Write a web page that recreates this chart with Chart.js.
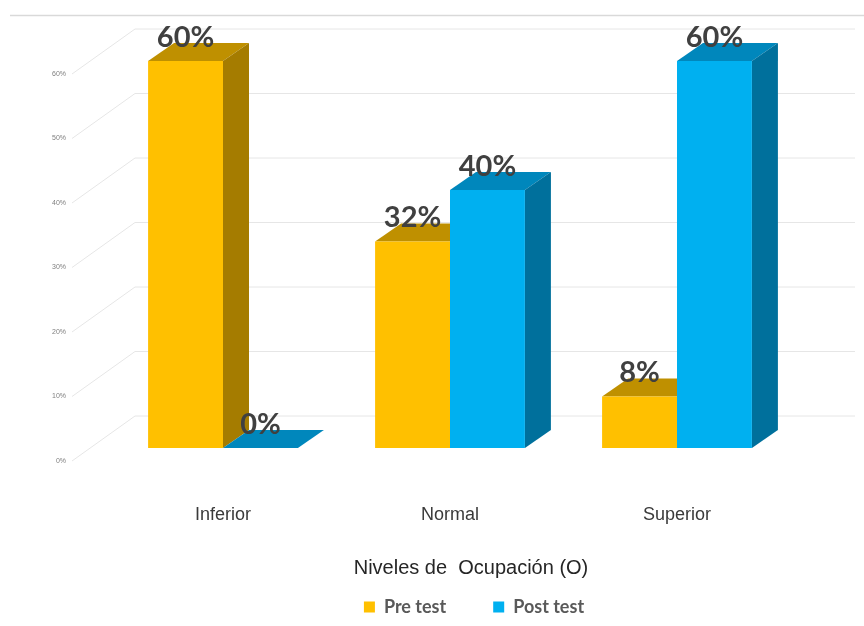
<!DOCTYPE html>
<html>
<head>
<meta charset="utf-8">
<script src="https://cdn.jsdelivr.net/npm/chart.js@4.4.0/dist/chart.umd.min.js"></script>
<style>
  html, body { margin: 0; padding: 0; background: #fff; }
  #wrap { width: 864px; height: 626px; }
</style>
</head>
<body>
<div id="wrap"><canvas id="chart" width="864" height="626"></canvas></div>
<script>
const categories = ["Inferior", "Normal", "Superior"];
const preTest = [60, 32, 8];
const postTest = [0, 40, 60];
const yTicks = [0, 10, 20, 30, 40, 50, 60];
const axisTitle = "Niveles de  Ocupación (O)";

const preColors = { front: "#FFC000", top: "#BF9000", side: "#A57C00" };
const postColors = { front: "#00B0F0", top: "#0087BC", side: "#00709C" };
const depth = { x: 26, y: -18 };

// back wall, gridlines, tick labels and the depth faces of the 3D bars
const wallPlugin = {
  id: "wall",
  afterLayout(chart) {
    // legend sits a bit right of the plot centre in the original
    chart.legend.left += 24;
    chart.legend.right += 24;
  },
  beforeDatasetsDraw(chart) {
    const { ctx, chartArea } = chart;
    const y = chart.scales.y;
    ctx.save();
    ctx.strokeStyle = "#d9d9d9";
    ctx.lineWidth = 1.5;
    ctx.beginPath();
    ctx.moveTo(10, 15.5);
    ctx.lineTo(864, 15.5);
    ctx.stroke();

    ctx.strokeStyle = "#e6e6e6";
    ctx.lineWidth = 1;
    ctx.font = "7px 'Liberation Sans'";
    ctx.fillStyle = "#7f7f7f";
    ctx.textAlign = "right";
    ctx.textBaseline = "middle";
    yTicks.forEach((v) => {
      const py = y.getPixelForValue(v);
      const fx = chartArea.left - 37.5, fy = py + 13;
      const bx = chartArea.left + 25.5, by = py - 32;
      ctx.beginPath();
      ctx.moveTo(fx, fy);
      ctx.lineTo(bx, by);
      ctx.lineTo(chartArea.right + 64.5, by);
      ctx.stroke();
      ctx.fillText(v + "%", fx - 6, fy);
    });

    chart.data.datasets.forEach((ds, di) => {
      const col = di === 0 ? preColors : postColors;
      chart.getDatasetMeta(di).data.forEach((bar) => {
        const { x, y: top, base, width } = bar.getProps(["x", "y", "base", "width"], true);
        const l = x - width / 2, r = x + width / 2;
        ctx.fillStyle = col.top;
        ctx.beginPath();
        ctx.moveTo(l, top);
        ctx.lineTo(r, top);
        ctx.lineTo(r + depth.x, top + depth.y);
        ctx.lineTo(l + depth.x, top + depth.y);
        ctx.closePath();
        ctx.fill();
        ctx.fillStyle = col.side;
        ctx.beginPath();
        ctx.moveTo(r, top);
        ctx.lineTo(r + depth.x, top + depth.y);
        ctx.lineTo(r + depth.x, base + depth.y);
        ctx.lineTo(r, base);
        ctx.closePath();
        ctx.fill();
      });
    });
    ctx.restore();
  },
  afterDatasetsDraw(chart) {
    const { ctx, chartArea } = chart;
    ctx.save();
    ctx.font = "bold 29px Lato";
    ctx.fillStyle = "#404040";
    ctx.textAlign = "center";
    ctx.textBaseline = "bottom";
    chart.data.datasets.forEach((ds, di) => {
      chart.getDatasetMeta(di).data.forEach((bar, i) => {
        ctx.fillText(ds.data[i] + "%", bar.x, bar.y - 9);
      });
    });
    // x axis title
    ctx.font = "20px 'Liberation Sans'";
    ctx.fillStyle = "#262626";
    ctx.textBaseline = "middle";
    ctx.fillText(axisTitle, (chartArea.left + chartArea.right) / 2 + 21, chartArea.bottom + 120);
    ctx.restore();
  }
};

new Chart(document.getElementById("chart"), {
  type: "bar",
  data: {
    labels: categories,
    datasets: [
      { label: "Pre test", data: preTest, backgroundColor: preColors.front },
      { label: "Post test", data: postTest, backgroundColor: postColors.front }
    ]
  },
  options: {
    responsive: false,
    animation: false,
    categoryPercentage: 0.66,
    barPercentage: 1.0,
    layout: { padding: { left: 109.5, right: 73.5, top: 61, bottom: 0 } },
    scales: {
      y: { display: false, min: 0, max: 60 },
      x: {
        grid: { display: false, drawTicks: false },
        border: { display: false },
        ticks: { padding: 56, color: "#3a3a3a", font: { family: "'Liberation Sans'", size: 18 } },
        afterFit(scale) {
          scale.height = 103;
        }
      }
    },
    plugins: {
      legend: {
        position: "bottom",
        labels: {
          boxWidth: 11,
          boxHeight: 11,
          padding: 47,
          color: "#595959",
          font: { family: "Lato", size: 18, weight: "bold" }
        }
      },
      tooltip: { enabled: false }
    }
  },
  plugins: [wallPlugin]
});
</script>
</body>
</html>
